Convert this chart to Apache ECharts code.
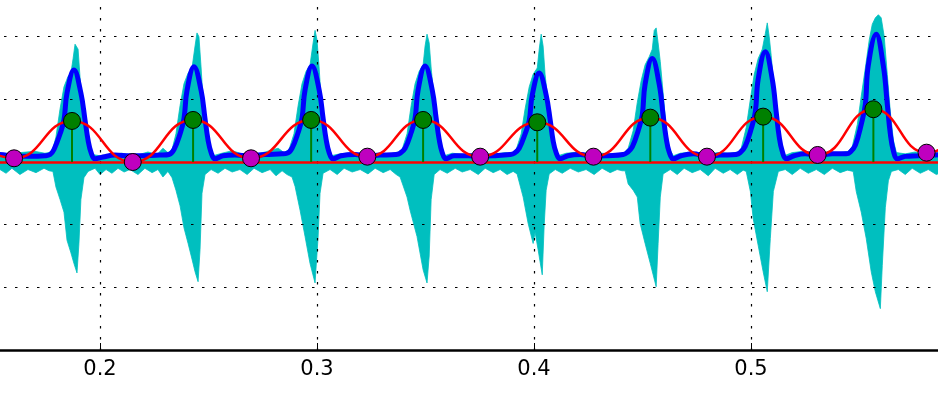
<!DOCTYPE html>
<html>
<head>
<meta charset="utf-8">
<script src="https://cdn.jsdelivr.net/npm/echarts@6/dist/echarts.min.js"></script>
<style>
  html, body { margin: 0; padding: 0; background: #fff; overflow: hidden; width: 938px; height: 394px; }
  /* the plot area runs past the window edges, as in the cropped original */
  #chart { position: absolute; left: -117px; top: -26px; width: 1085px; height: 420px; }
</style>
</head>
<body>
<div id="chart"></div>
<script>
// raw signal, upper envelope (time s, amplitude)
const upT = [0.1493, 0.1562, 0.1631, 0.1700, 0.1746,
  0.1779, 0.1797, 0.1816, 0.1834, 0.1852, 0.1866, 0.1876, 0.1885, 0.1894, 0.1899, 0.1908, 0.1917, 0.1931, 0.1945, 0.1963,
  0.2000, 0.2046, 0.2101, 0.2161, 0.2221, 0.2263, 0.2290, 0.2313,
  0.2332, 0.2350, 0.2369, 0.2387, 0.2406, 0.2424, 0.2438, 0.2447, 0.2456, 0.2466, 0.2475, 0.2489, 0.2502, 0.2521,
  0.2562, 0.2609, 0.2655, 0.2715, 0.2761, 0.2821, 0.2848,
  0.2871, 0.2894, 0.2913, 0.2931, 0.2950, 0.2968, 0.2982, 0.2991, 0.3000, 0.3010, 0.3019, 0.3033, 0.3046, 0.3065,
  0.3106, 0.3162, 0.3222, 0.3282, 0.3337, 0.3374,
  0.3392, 0.3415, 0.3434, 0.3452, 0.3471, 0.3489, 0.3498, 0.3507, 0.3517, 0.3526, 0.3540, 0.3554, 0.3567, 0.3586,
  0.3623, 0.3683, 0.3743, 0.3807, 0.3867, 0.3899,
  0.3918, 0.3941, 0.3959, 0.3978, 0.3996, 0.4015, 0.4024, 0.4033, 0.4042, 0.4051, 0.4065, 0.4079, 0.4093, 0.4111,
  0.4148, 0.4204, 0.4259, 0.4314, 0.4374, 0.4416,
  0.4434, 0.4457, 0.4476, 0.4494, 0.4512, 0.4531, 0.4545, 0.4554, 0.4563, 0.4572, 0.4582, 0.4595, 0.4609, 0.4623, 0.4642,
  0.4674, 0.4729, 0.4789, 0.4849, 0.4904, 0.4941,
  0.4955, 0.4978, 0.4997, 0.5015, 0.5033, 0.5052, 0.5066, 0.5075, 0.5084, 0.5093, 0.5107, 0.5121, 0.5135, 0.5153,
  0.5190, 0.5241, 0.5296, 0.5356, 0.5411, 0.5448,
  0.5467, 0.5490, 0.5508, 0.5527, 0.5545, 0.5559, 0.5573, 0.5587, 0.5600, 0.5614, 0.5628, 0.5642, 0.5656, 0.5670,
  0.5711, 0.5757, 0.5803, 0.5849, 0.5895];
const upV = [0.15, 0.13, 0.15, 0.17, 0.14,
  0.16, 0.40, 0.85, 1.20, 1.36, 1.42, 1.65, 1.88, 1.90, 1.80, 1.35, 1.00, 0.55, 0.22, 0.12,
  0.10, 0.12, 0.14, 0.10, 0.16, 0.12, 0.22, 0.15,
  0.20, 0.45, 0.90, 1.25, 1.42, 1.50, 1.85, 2.06, 2.00, 1.50, 1.00, 0.50, 0.20, 0.10,
  0.14, 0.18, 0.13, 0.12, 0.16, 0.22, 0.15,
  0.20, 0.45, 0.90, 1.25, 1.45, 1.55, 1.90, 2.10, 1.95, 1.50, 1.00, 0.50, 0.20, 0.10,
  0.13, 0.15, 0.12, 0.14, 0.13, 0.16,
  0.20, 0.45, 0.90, 1.25, 1.45, 1.55, 1.85, 2.04, 1.90, 1.50, 1.00, 0.50, 0.20, 0.10,
  0.14, 0.12, 0.14, 0.12, 0.15, 0.14,
  0.20, 0.45, 0.85, 1.20, 1.40, 1.50, 1.80, 2.04, 1.85, 1.40, 0.95, 0.45, 0.20, 0.10,
  0.14, 0.16, 0.12, 0.14, 0.12, 0.15,
  0.22, 0.50, 0.95, 1.30, 1.55, 1.68, 1.80, 2.10, 2.14, 1.90, 1.60, 1.10, 0.55, 0.22, 0.10,
  0.14, 0.16, 0.12, 0.15, 0.14, 0.16,
  0.22, 0.55, 1.00, 1.40, 1.65, 1.80, 2.05, 2.22, 2.00, 1.70, 1.15, 0.60, 0.25, 0.10,
  0.15, 0.17, 0.14, 0.16, 0.15, 0.17,
  0.25, 0.60, 1.05, 1.50, 1.95, 2.20, 2.30, 2.35, 2.30, 2.00, 1.40, 0.80, 0.35, 0.15,
  0.13, 0.16, 0.13, 0.15, 0.14];

// raw signal, lower envelope
const loT = [0.1493, 0.1539, 0.1567, 0.1594, 0.1631, 0.1668, 0.1705, 0.1742, 0.1765,
  0.1783, 0.1797, 0.1816, 0.1834, 0.1848, 0.1866, 0.1880, 0.1894, 0.1903, 0.1912, 0.1926, 0.1945,
  0.1977, 0.2000, 0.2028, 0.2055, 0.2083, 0.2111, 0.2138, 0.2175, 0.2207, 0.2240, 0.2267, 0.2290, 0.2313,
  0.2332, 0.2350, 0.2369, 0.2387, 0.2406, 0.2424, 0.2438, 0.2452, 0.2461, 0.2470, 0.2484,
  0.2512, 0.2544, 0.2576, 0.2609, 0.2645, 0.2678, 0.2710, 0.2747, 0.2784, 0.2811, 0.2839, 0.2862,
  0.2885, 0.2899, 0.2922, 0.2945, 0.2968, 0.2991, 0.3005, 0.3014, 0.3028,
  0.3060, 0.3093, 0.3125, 0.3162, 0.3199, 0.3235, 0.3268, 0.3305, 0.3337, 0.3365,
  0.3383, 0.3415, 0.3429, 0.3461, 0.3489, 0.3507, 0.3517, 0.3526, 0.3540,
  0.3567, 0.3600, 0.3637, 0.3669, 0.3706, 0.3743, 0.3775, 0.3812, 0.3844, 0.3876, 0.3904,
  0.3922, 0.3950, 0.3973, 0.3996, 0.4005, 0.4019, 0.4038, 0.4047, 0.4056, 0.4070,
  0.4098, 0.4130, 0.4167, 0.4204, 0.4240, 0.4277, 0.4314, 0.4351, 0.4383, 0.4406,
  0.4420, 0.4434, 0.4457, 0.4476, 0.4489, 0.4512, 0.4536, 0.4563, 0.4572, 0.4582, 0.4595,
  0.4628, 0.4660, 0.4692, 0.4729, 0.4766, 0.4803, 0.4835, 0.4872, 0.4904, 0.4937, 0.4964,
  0.4978, 0.4997, 0.5010, 0.5033, 0.5056, 0.5075, 0.5089, 0.5103, 0.5126,
  0.5158, 0.5190, 0.5227, 0.5264, 0.5301, 0.5338, 0.5375, 0.5411, 0.5444,
  0.5471, 0.5485, 0.5508, 0.5531, 0.5554, 0.5573, 0.5596, 0.5605, 0.5619, 0.5633, 0.5647,
  0.5679, 0.5711, 0.5743, 0.5780, 0.5817, 0.5854, 0.5895];
const loV = [-0.15, -0.12, -0.18, -0.10, -0.20, -0.12, -0.17, -0.10, -0.14,
  -0.15, -0.40, -0.60, -0.80, -1.25, -1.45, -1.62, -1.77, -1.30, -0.60, -0.25, -0.15,
  -0.10, -0.20, -0.12, -0.18, -0.10, -0.16, -0.12, -0.20, -0.10, -0.17, -0.12, -0.24, -0.15,
  -0.25, -0.45, -0.70, -1.05, -1.30, -1.55, -1.75, -1.91, -1.40, -0.50, -0.20,
  -0.12, -0.18, -0.10, -0.16, -0.12, -0.20, -0.10, -0.17, -0.12, -0.22, -0.14, -0.20,
  -0.24, -0.39, -0.77, -1.19, -1.62, -1.93, -1.20, -0.50, -0.18,
  -0.12, -0.20, -0.10, -0.16, -0.12, -0.19, -0.10, -0.17, -0.12, -0.20,
  -0.24, -0.56, -0.77, -1.19, -1.72, -1.93, -1.50, -0.60, -0.20,
  -0.12, -0.18, -0.10, -0.16, -0.12, -0.20, -0.10, -0.17, -0.12, -0.20, -0.15,
  -0.19, -0.56, -0.98, -1.30, -1.12, -1.40, -1.80, -1.00, -0.45, -0.19,
  -0.12, -0.18, -0.10, -0.16, -0.12, -0.20, -0.10, -0.17, -0.12, -0.14,
  -0.14, -0.35, -0.45, -0.56, -0.98, -1.30, -1.62, -1.99, -1.30, -0.56, -0.19,
  -0.12, -0.20, -0.10, -0.17, -0.12, -0.22, -0.10, -0.18, -0.12, -0.20, -0.13,
  -0.15, -0.47, -0.90, -1.33, -1.75, -2.07, -1.22, -0.47, -0.15,
  -0.12, -0.20, -0.10, -0.18, -0.12, -0.20, -0.10, -0.17, -0.13,
  -0.15, -0.47, -0.80, -1.22, -1.75, -2.07, -2.34, -1.65, -0.73, -0.30, -0.15,
  -0.12, -0.20, -0.10, -0.18, -0.12, -0.20, -0.14];

// smoothed energy (blue)
const envT = [0.1493, 0.1539, 0.1608, 0.1677, 0.1746, 0.1770,
  0.1788, 0.1816, 0.1834, 0.1848, 0.1880, 0.1912, 0.1931, 0.1945, 0.1959, 0.1977,
  0.2014, 0.2069, 0.2138, 0.2207, 0.2277, 0.2318,
  0.2341, 0.2369, 0.2387, 0.2401, 0.2433, 0.2466, 0.2484, 0.2498, 0.2512, 0.2530,
  0.2567, 0.2622, 0.2692, 0.2761, 0.2839, 0.2862,
  0.2885, 0.2913, 0.2931, 0.2945, 0.2977, 0.3010, 0.3028, 0.3042, 0.3056, 0.3074,
  0.3111, 0.3176, 0.3231, 0.3291, 0.3365, 0.3383,
  0.3406, 0.3434, 0.3452, 0.3466, 0.3498, 0.3531, 0.3549, 0.3563, 0.3577, 0.3595,
  0.3632, 0.3696, 0.3752, 0.3821, 0.3890, 0.3909,
  0.3932, 0.3959, 0.3978, 0.3992, 0.4024, 0.4056, 0.4075, 0.4088, 0.4102, 0.4121,
  0.4157, 0.4213, 0.4273, 0.4342, 0.4411, 0.4429,
  0.4453, 0.4480, 0.4499, 0.4512, 0.4545, 0.4577, 0.4595, 0.4609, 0.4623, 0.4642,
  0.4678, 0.4734, 0.4798, 0.4858, 0.4932, 0.4950,
  0.4973, 0.5001, 0.5020, 0.5033, 0.5066, 0.5098, 0.5116, 0.5130, 0.5144, 0.5162,
  0.5199, 0.5250, 0.5310, 0.5375, 0.5439, 0.5458,
  0.5481, 0.5508, 0.5527, 0.5540, 0.5577, 0.5610, 0.5628, 0.5642, 0.5656, 0.5674,
  0.5711, 0.5771, 0.5826, 0.5895];
const envV = [0.12, 0.12, 0.09, 0.09, 0.10, 0.12,
  0.20, 0.45, 0.67, 1.10, 1.47, 1.10, 0.67, 0.35, 0.15, 0.05,
  0.08, 0.11, 0.10, 0.10, 0.11, 0.12,
  0.20, 0.45, 0.69, 1.14, 1.52, 1.14, 0.69, 0.35, 0.15, 0.05,
  0.10, 0.11, 0.10, 0.12, 0.13, 0.14,
  0.22, 0.47, 0.70, 1.15, 1.53, 1.15, 0.70, 0.36, 0.15, 0.05,
  0.10, 0.12, 0.10, 0.11, 0.12, 0.14,
  0.22, 0.47, 0.70, 1.15, 1.53, 1.15, 0.70, 0.36, 0.15, 0.05,
  0.10, 0.10, 0.09, 0.10, 0.12, 0.14,
  0.22, 0.45, 0.66, 1.07, 1.42, 1.07, 0.66, 0.34, 0.15, 0.05,
  0.10, 0.12, 0.09, 0.10, 0.12, 0.15,
  0.24, 0.50, 0.75, 1.24, 1.65, 1.24, 0.75, 0.38, 0.16, 0.05,
  0.10, 0.13, 0.09, 0.11, 0.12, 0.15,
  0.25, 0.53, 0.80, 1.32, 1.76, 1.32, 0.80, 0.40, 0.17, 0.05,
  0.10, 0.13, 0.11, 0.13, 0.13, 0.16,
  0.27, 0.60, 0.92, 1.53, 2.04, 1.53, 0.92, 0.45, 0.18, 0.05,
  0.09, 0.10, 0.11, 0.12];

// peaks (green stems) and valleys (magenta)
const peakT = [0.1871, 0.2429, 0.2973, 0.3489, 0.4015, 0.4536, 0.5056, 0.5564];
const peakV = [0.655, 0.671, 0.671, 0.671, 0.634, 0.708, 0.724, 0.842];
const valleyT = [0.1604, 0.2151, 0.2696, 0.3232, 0.3752, 0.4274, 0.4797, 0.5307, 0.5809];
const valleyV = [0.059, 0.0, 0.059, 0.085, 0.085, 0.085, 0.085, 0.112, 0.149];

// red smoothed curve through the extrema
const redT = [0.1336, 0.1604, 0.1871, 0.2151, 0.2429, 0.2696, 0.2973, 0.3232, 0.3489, 0.3752,
  0.4015, 0.4274, 0.4536, 0.4797, 0.5056, 0.5307, 0.5564, 0.5809, 0.6071];
const redV = [0.64, 0.059, 0.655, 0.0, 0.671, 0.059, 0.671, 0.085, 0.671, 0.085,
  0.634, 0.085, 0.708, 0.085, 0.724, 0.112, 0.842, 0.149, 0.90];

const xTicks = [0.1, 0.6, 0.1];  // min, max, step
const yTicks = [-3, 3, 1];

const zip = (a, b) => a.map((v, i) => [v, b[i]]);

const chart = echarts.init(document.getElementById('chart'), null, { renderer: 'canvas' });

const dotted = { color: '#000', width: 1.2, type: [2.5, 8.5] };

const option = {
  animation: false,
  backgroundColor: '#fff',
  grid: { left: 0, right: 0, top: 0, bottom: 44, containLabel: false, outerBoundsMode: 'none' },
  xAxis: {
    type: 'value',
    min: xTicks[0], max: xTicks[1], interval: xTicks[2],
    z: 2,
    axisLine: { onZero: false, lineStyle: { color: '#000', width: 2.5 } },
    axisTick: { inside: true, length: 7, lineStyle: { color: '#000', width: 1 } },
    axisLabel: { color: '#000', fontSize: 21, fontFamily: 'DejaVu Sans', margin: 9 },
    splitLine: { show: true, lineStyle: dotted }
  },
  yAxis: {
    type: 'value',
    min: yTicks[0], max: yTicks[1], interval: yTicks[2],
    z: 2,
    axisLine: { show: false },
    axisTick: { show: false },
    axisLabel: { show: false },
    splitLine: { show: true, lineStyle: dotted }
  },
  series: [
    {
      type: 'line', data: zip(upT, upV), z: 1, showSymbol: false,
      lineStyle: { color: '#00BFBF', width: 0.8 },
      areaStyle: { color: '#00BFBF', opacity: 1 }
    },
    {
      type: 'line', data: zip(loT, loV), z: 1, showSymbol: false,
      lineStyle: { color: '#00BFBF', width: 0.8 },
      areaStyle: { color: '#00BFBF', opacity: 1 }
    },
    {
      type: 'line', data: zip(envT, envV), z: 3, showSymbol: false, smooth: 0.4,
      lineStyle: { color: '#0000FF', width: 5 }
    },
    {
      type: 'line', data: zip(redT, redV), z: 4, showSymbol: false, smooth: 0.5,
      lineStyle: { color: '#FF0000', width: 2.5 }
    },
    {
      type: 'bar', data: zip(peakT, peakV), z: 5, barWidth: 2,
      itemStyle: { color: '#008000' },
      markLine: {
        silent: true, symbol: 'none', z: 5,
        label: { show: false },
        lineStyle: { color: '#FF0000', width: 2.5, type: 'solid' },
        data: [{ yAxis: 0 }]
      }
    },
    {
      type: 'scatter', data: zip(peakT, peakV), z: 6, symbolSize: 17,
      itemStyle: { color: '#008000', borderColor: '#000', borderWidth: 1, opacity: 1 }
    },
    {
      type: 'scatter', data: zip(valleyT, valleyV), z: 7, symbolSize: 17,
      itemStyle: { color: '#BF00BF', borderColor: '#000', borderWidth: 1, opacity: 1 }
    }
  ]
};

chart.setOption(option, true);
</script>
</body>
</html>
